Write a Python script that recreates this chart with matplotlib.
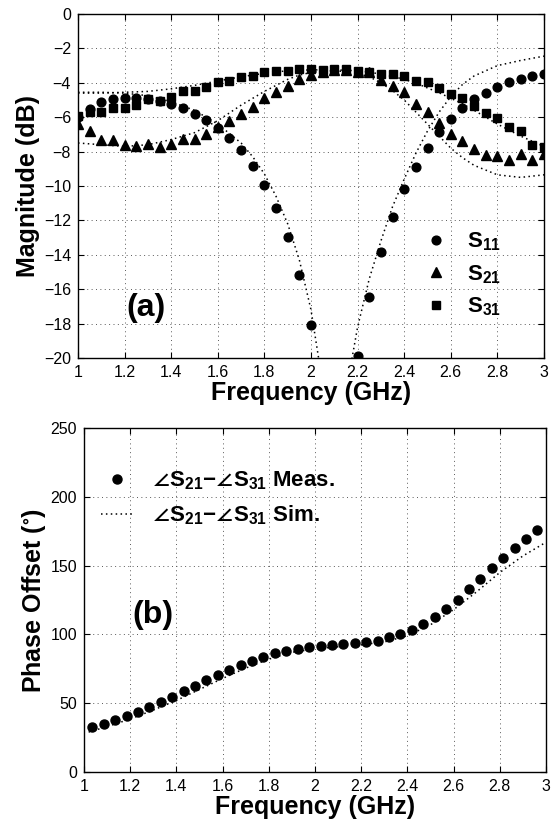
import numpy as np
import matplotlib
matplotlib.use("Agg")
import matplotlib.pyplot as plt

plt.rcParams['font.family'] = ['Liberation Sans', 'DejaVu Sans']
plt.rcParams['mathtext.fontset'] = 'custom'
plt.rcParams['mathtext.rm'] = 'Liberation Sans:bold'
plt.rcParams['mathtext.bf'] = 'Liberation Sans:bold'
plt.rcParams['mathtext.it'] = 'Liberation Sans:bold'
plt.rcParams['mathtext.sf'] = 'Liberation Sans:bold'
plt.rcParams['mathtext.default'] = 'bf'
plt.rcParams['mathtext.fallback'] = 'stixsans'

# ---------------- data: panel (a) ----------------
freq_meas = [1.00, 1.05, 1.10, 1.15, 1.20, 1.25, 1.30, 1.35, 1.40, 1.45,
             1.50, 1.55, 1.60, 1.65, 1.70, 1.75, 1.80, 1.85, 1.90, 1.95,
             2.00, 2.05, 2.10, 2.15, 2.20, 2.25, 2.30, 2.35, 2.40, 2.45,
             2.50, 2.55, 2.60, 2.65, 2.70, 2.75, 2.80, 2.85, 2.90, 2.95, 3.00]
s11_meas = [-5.98, -5.50, -5.10, -4.95, -4.87, -4.87, -4.95, -5.07, -5.26, -5.46,
            -5.79, -6.14, -6.60, -7.20, -7.92, -8.83, -9.92, -11.26, -12.98, -15.19,
            -18.10, np.nan, np.nan, np.nan, -19.90, -16.43, -13.84, -11.82, -10.20, -8.88,
            -7.77, -6.86, -6.10, -5.48, -4.96, -4.57, -4.26, -3.95, -3.78, -3.62, -3.49]
s21_meas = [-6.37, -6.80, -7.30, -7.34, -7.60, -7.67, -7.53, -7.73, -7.57, -7.24,
            -7.24, -6.95, -6.56, -6.23, -5.79, -5.40, -4.91, -4.52, -4.19, -3.80,
            -3.55, -3.35, -3.25, -3.25, -3.35, -3.40, -3.85, -4.19, -4.55, -5.25,
            -5.68, -6.36, -6.98, -7.38, -7.85, -8.20, -8.23, -8.49, -8.16, -8.49, -8.16]
s31_meas = [-5.95, -5.69, -5.69, -5.44, -5.44, -5.30, -4.95, -5.07, -4.82, -4.47,
            -4.47, -4.27, -3.98, -3.90, -3.69, -3.59, -3.40, -3.32, -3.32, -3.18,
            -3.22, -3.26, -3.20, -3.20, -3.30, -3.35, -3.49, -3.49, -3.60, -3.90,
            -3.94, -4.32, -4.67, -4.90, -5.33, -5.77, -6.03, -6.59, -6.78, -7.62, -7.75]

freq_sim = [1.00, 1.10, 1.20, 1.30, 1.40, 1.50, 1.60, 1.70, 1.75, 1.80,
            1.85, 1.90, 1.95, 2.00, 2.05, 2.10, 2.15, 2.20, 2.25, 2.30,
            2.35, 2.40, 2.45, 2.50, 2.55, 2.60, 2.65, 2.70, 2.80, 2.90, 3.00]
s11_sim = [-4.55, -4.55, -4.60, -4.75, -5.10, -5.60, -6.40, -7.50, -8.30, -9.30,
           -10.60, -12.20, -14.30, -17.20, -21.50, -26.00, -22.00, -18.20, -15.40, -13.20,
           -11.20, -9.60, -8.10, -6.80, -5.70, -4.80, -4.10, -3.60, -3.00, -2.70, -2.45]
s21_sim = [-7.50, -7.60, -7.70, -7.60, -7.30, -6.90, -6.20, -5.30, -4.90, -4.50,
           -4.15, -3.80, -3.55, -3.40, -3.32, -3.30, -3.35, -3.45, -3.65, -4.00,
           -4.45, -5.00, -5.70, -6.40, -7.10, -7.80, -8.35, -8.80, -9.35, -9.50, -9.35]
s31_sim = [-4.60, -4.60, -4.55, -4.50, -4.35, -4.15, -3.90, -3.65, -3.55, -3.45,
           -3.37, -3.30, -3.27, -3.25, -3.25, -3.25, -3.27, -3.30, -3.38, -3.50,
           -3.63, -3.80, -4.02, -4.30, -4.58, -4.90, -5.22, -5.60, -6.40, -7.10, -7.70]

# ---------------- data: panel (b) ----------------
freq_phase = [1.036, 1.085, 1.135, 1.184, 1.234, 1.283, 1.332, 1.382, 1.431, 1.481,
              1.530, 1.579, 1.629, 1.678, 1.728, 1.777, 1.826, 1.876, 1.925, 1.975,
              2.024, 2.073, 2.123, 2.172, 2.222, 2.271, 2.320, 2.370, 2.419, 2.469,
              2.518, 2.567, 2.617, 2.666, 2.716, 2.765, 2.814, 2.864, 2.913, 2.962]
phase_meas = [32.5, 34.9, 37.8, 40.7, 43.8, 47.5, 50.7, 54.7, 58.9, 62.5,
              66.9, 70.5, 74.1, 77.8, 80.9, 83.8, 86.3, 88.2, 89.4, 90.6,
              91.3, 92.1, 92.8, 93.5, 94.7, 95.4, 97.9, 100.1, 103.2, 107.6,
              112.9, 118.7, 125.0, 133.0, 140.5, 148.3, 155.5, 162.8, 169.1, 175.9]
freq_phase_sim = [1.02, 1.10, 1.20, 1.30, 1.40, 1.50, 1.60, 1.70, 1.80, 1.90,
                  2.00, 2.10, 2.20, 2.30, 2.40, 2.50, 2.60, 2.70, 2.80, 2.90, 3.00]
phase_sim = [29.0, 33.0, 38.5, 45.0, 52.0, 60.0, 68.0, 75.5, 82.0, 87.0,
             89.5, 91.0, 92.5, 94.5, 99.0, 107.0, 118.0, 131.0, 145.0, 157.0, 167.0]

xticks = [1, 1.2, 1.4, 1.6, 1.8, 2, 2.2, 2.4, 2.6, 2.8, 3]
xticklabels = ['1', '1.2', '1.4', '1.6', '1.8', '2', '2.2', '2.4', '2.6', '2.8', '3']
yticks_a = [0, -2, -4, -6, -8, -10, -12, -14, -16, -18, -20]
yticks_b = [0, 50, 100, 150, 200, 250]

W, H = 558, 823
fig = plt.figure(figsize=(W / 100, H / 100), dpi=100)
ax1 = fig.add_axes([78 / W, 1 - 358 / H, 466 / W, 344 / H])
ax2 = fig.add_axes([84 / W, 1 - 772 / H, 462 / W, 344 / H])

sim_style = dict(color='black', linestyle=(0, (1, 2.2)), linewidth=1.1)
grid_style = dict(color='0.35', linestyle=(0, (1, 3.5)), linewidth=0.7)

def style_axes(ax):
    ax.set_xlim(1, 3)
    ax.set_xticks(xticks)
    ax.set_xticklabels(xticklabels)
    ax.tick_params(direction='in', top=True, right=True, length=4, width=0.8,
                   labelsize=11.5, pad=5)
    ax.grid(True, **grid_style)
    for sp in ax.spines.values():
        sp.set_linewidth(1.0)
    ax.set_xlabel('Frequency (GHz)', fontsize=18, fontweight='bold', labelpad=1)

# ---- panel (a) ----
ax1.plot(freq_sim, s11_sim, **sim_style)
ax1.plot(freq_sim, s21_sim, **sim_style)
ax1.plot(freq_sim, s31_sim, **sim_style)
l1, = ax1.plot(freq_meas, s11_meas, 'o', color='black', markersize=6.3, linestyle='none')
l2, = ax1.plot(freq_meas, s21_meas, '^', color='black', markersize=7, linestyle='none')
l3, = ax1.plot(freq_meas, s31_meas, 's', color='black', markersize=5.6, linestyle='none')
ax1.set_ylim(-20, 0)
ax1.set_yticks(yticks_a)
style_axes(ax1)
ax1.set_ylabel('Magnitude (dB)', fontsize=18, fontweight='bold', labelpad=3)
ax1.text(1.29, -17.1, '(a)', fontsize=23, fontweight='bold', ha='center', va='center')
leg1 = ax1.legend([l1, l2, l3], ['S$_{11}$', 'S$_{21}$', 'S$_{31}$'],
                  loc='upper left', bbox_to_anchor=(0.72, 0.397), frameon=False,
                  fontsize=16, handlelength=1.2, handletextpad=0.8, labelspacing=0.45,
                  borderaxespad=0)
for t in leg1.get_texts():
    t.set_fontweight('bold')

# ---- panel (b) ----
m1, = ax2.plot(freq_phase, phase_meas, 'o', color='black', markersize=6.5, linestyle='none')
s1, = ax2.plot(freq_phase_sim, phase_sim, **sim_style)
ax2.set_ylim(0, 250)
ax2.set_yticks(yticks_b)
style_axes(ax2)
ax2.set_ylabel('Phase Offset ($^{\\circ}$)', fontsize=18, fontweight='bold', labelpad=2)
ax2.text(1.30, 114, '(b)', fontsize=23, fontweight='bold', ha='center', va='center')
leg2 = ax2.legend([m1, s1], ['$\\angle$S$_{21}$−$\\angle$S$_{31}$ Meas.',
                             '$\\angle$S$_{21}$−$\\angle$S$_{31}$ Sim.'],
                  loc='upper left', bbox_to_anchor=(0.017, 0.905), frameon=False,
                  fontsize=16, handlelength=1.45, handletextpad=0.85, labelspacing=0.5,
                  borderaxespad=0)
for t in leg2.get_texts():
    t.set_fontweight('bold')

fig.savefig('out.png', dpi=100)
